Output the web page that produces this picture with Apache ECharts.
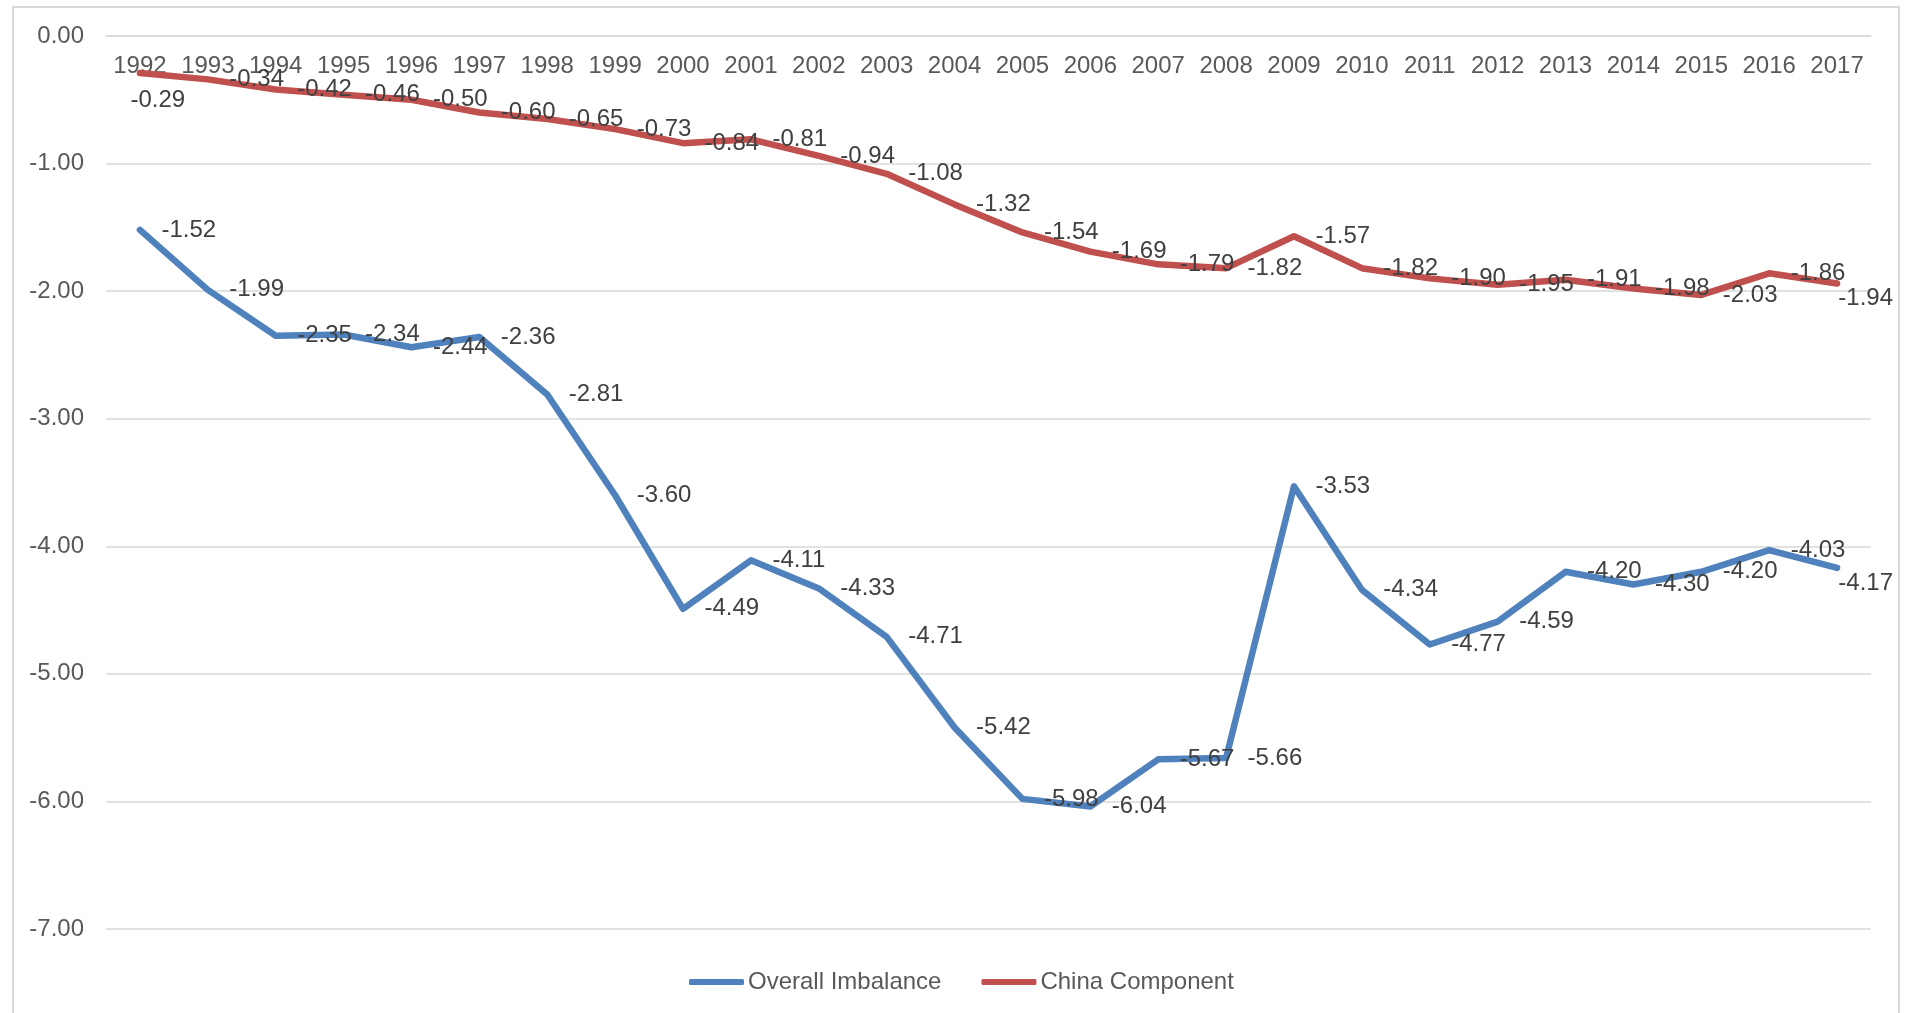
<!DOCTYPE html>
<html>
<head>
<meta charset="utf-8">
<style>
  html, body { margin: 0; padding: 0; background: #fff; }
  #chart { width: 1910px; height: 1013px; }
  #frame { position: absolute; left: 12px; top: 6px; width: 1888px; height: 1020px; border: 2px solid #d9d9d9; box-sizing: border-box; pointer-events: none; }
</style>
<script src="https://cdn.jsdelivr.net/npm/echarts@6/dist/echarts.min.js"></script>
</head>
<body>
<div id="chart"></div>
<div id="frame"></div>
<script>
const years = ['1992', '1993', '1994', '1995', '1996', '1997', '1998', '1999', '2000', '2001', '2002', '2003', '2004',
  '2005', '2006', '2007', '2008', '2009', '2010', '2011', '2012', '2013', '2014', '2015', '2016', '2017']

const overallImbalance = [-1.52, -1.99, -2.35, -2.34, -2.44, -2.36, -2.81, -3.60, -4.49, -4.11, -4.33, -4.71, -5.42,
  -5.98, -6.04, -5.67, -5.66, -3.53, -4.34, -4.77, -4.59, -4.20, -4.30, -4.20, -4.03, -4.17]

const chinaComponent = [-0.29, -0.34, -0.42, -0.46, -0.50, -0.60, -0.65, -0.73, -0.84, -0.81, -0.94, -1.08, -1.32,
  -1.54, -1.69, -1.79, -1.82, -1.57, -1.82, -1.90, -1.95, -1.91, -1.98, -2.03, -1.86, -1.94]

const seriesNames = ['Overall Imbalance', 'China Component']
const yMin = -7
const yMax = 0
const yStep = 1

const FONT = "'Liberation Sans', Arial, sans-serif"
const chart = echarts.init(document.getElementById('chart'))

function dataLabel() {
  return {
    show: true,
    position: 'right',
    distance: 21,
    offset: [0, 3],
    color: '#404040',
    fontSize: 24,
    fontFamily: FONT,
    formatter: p => p.value.toFixed(2),
  }
}

// keep labels inside the chart frame like Excel does
function clampLabel(params) {
  const r = params.labelRect
  const limit = 1893
  if (r.x + r.width > limit) return { x: limit - r.width }
}

// first China label sits below the point (it would hit the year label otherwise)
const chinaData = chinaComponent.map((v, i) => i === 0
  ? { value: v, label: { position: [-9, 28], align: 'left', verticalAlign: 'middle' } }
  : v)

const option = {
  backgroundColor: '#fff',
  animation: false,
  textStyle: { fontFamily: FONT },
  grid: { left: 106, right: 39, top: 36, bottom: 84 },
  legend: {
    left: 684,
    top: 965,
    itemWidth: 55,
    itemHeight: 6,
    itemGap: 40,
    icon: 'roundRect',
    textStyle: { color: '#595959', fontSize: 24, fontFamily: FONT, padding: [0, 0, 0, -1] },
    data: seriesNames,
  },
  xAxis: {
    type: 'category',
    data: years,
    position: 'top',
    boundaryGap: true,
    axisLine: { lineStyle: { color: '#d9d9d9', width: 1.5 } },
    axisTick: { show: false },
    axisLabel: { inside: true, color: '#595959', fontSize: 24, fontFamily: FONT, margin: 18, interval: 0 },
  },
  yAxis: {
    type: 'value',
    min: yMin,
    max: yMax,
    interval: yStep,
    axisLine: { show: false },
    axisTick: { show: false },
    splitLine: { lineStyle: { color: '#d9d9d9', width: 1.5 } },
    axisLabel: { color: '#595959', fontSize: 24, fontFamily: FONT, margin: 22, formatter: v => v.toFixed(2) },
  },
  series: [
    {
      name: seriesNames[0],
      type: 'line',
      data: overallImbalance,
      symbol: 'circle',
      symbolSize: 1,
      showSymbol: true,
      color: '#4f81bd',
      lineStyle: { color: '#4f81bd', width: 6.5, cap: 'round', join: 'round' },
      label: dataLabel(),
      labelLayout: clampLabel,
      z: 3,
    },
    {
      name: seriesNames[1],
      type: 'line',
      data: chinaData,
      symbol: 'circle',
      symbolSize: 1,
      showSymbol: true,
      color: '#c0504d',
      lineStyle: { color: '#c0504d', width: 6.5, cap: 'round', join: 'round' },
      label: dataLabel(),
      labelLayout: clampLabel,
      z: 3,
    },
  ],
}

chart.setOption(option)
</script>
</body>
</html>
